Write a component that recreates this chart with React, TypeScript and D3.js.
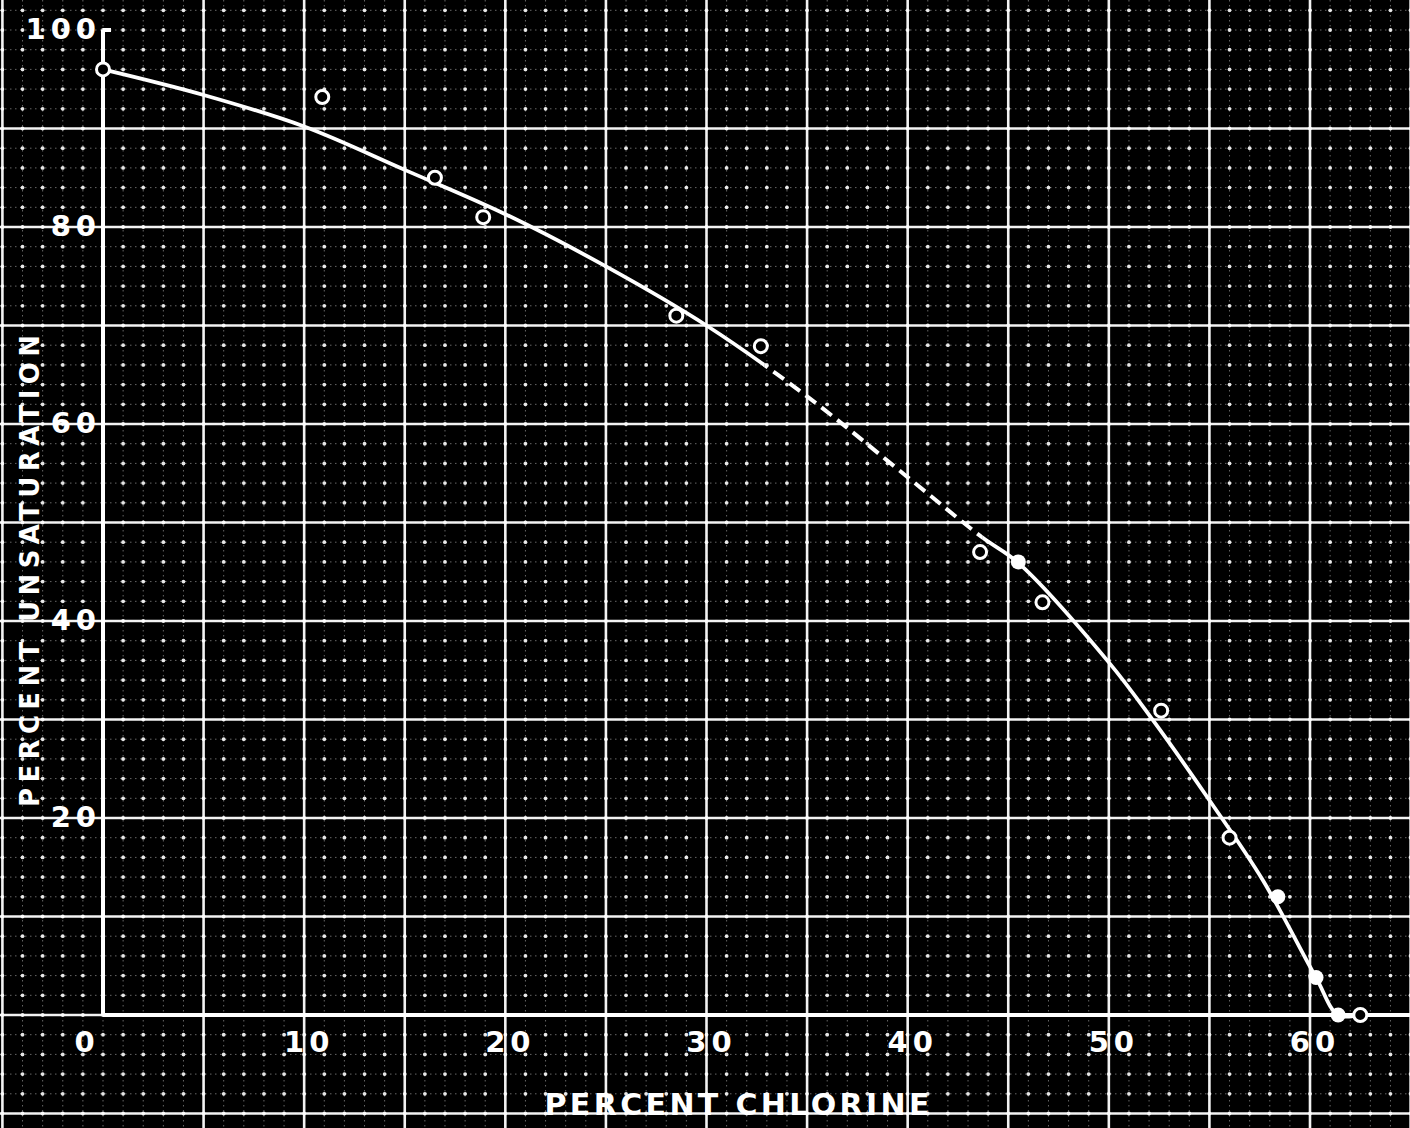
import React from "react";
import * as d3 from "d3";

const width = 1410;
const height = 1128;

// measured points (percent chlorine vs percent unsaturation)
const chlorine = [0, 10.9, 16.5, 18.9, 28.5, 32.7, 43.6, 45.5, 46.7, 52.6, 56.0, 58.4, 60.3, 61.4, 62.5];
const unsaturation = [96.0, 93.2, 85.0, 81.0, 71.0, 67.9, 47.0, 46.0, 41.9, 30.9, 18.0, 12.0, 3.8, 0, 0];
const filled = [false, false, false, false, false, false, false, true, false, false, false, true, true, true, false];

// hand drawn curve
const curveX = [0, 5, 10, 15, 20, 25, 30, 35, 40, 43.7, 45.5, 50, 52.2, 55, 57.65, 60.3, 61.4, 62.5];
const curveY = [96, 93.4, 90.2, 85.8, 81.3, 76, 70, 62.8, 54.6, 48.5, 45.9, 35.8, 29.9, 21.8, 13.7, 3.8, 0, 0];
const dashedFrom = 32.9;
const dashedTo = 43.7;

const xTicks = [0, 10, 20, 30, 40, 50, 60];
const yTicks = [20, 40, 60, 80, 100];
const xTitle = "PERCENT CHLORINE";
const yTitle = "PERCENT UNSATURATION";

const x = d3.scaleLinear().domain([0, 60]).range([103, 1310]);
const y = d3.scaleLinear().domain([0, 100]).range([1015, 30]);

const font = "'DejaVu Sans', sans-serif";

export default function App() {
  const majorX = d3.range(-5, 70, 5).filter(v => v !== 0);
  const majorY = d3.range(-10, 100, 10);
  const minorX = d3.range(-5, 66, 1);
  const minorY = d3.range(-12, 106, 2);

  const pts = curveX.map((v, i) => [v, curveY[i]] as [number, number]);
  const line = d3
    .line<[number, number]>()
    .x(d => x(d[0]))
    .y(d => y(d[1]))
    .curve(d3.curveCatmullRom.alpha(0.5));
  const path = line(pts) || "";

  const x0 = x(dashedFrom);
  const x1 = x(dashedTo);

  return (
    <svg
      width={width}
      height={height}
      style={{ position: "absolute", left: 0, top: 0, background: "#000" }}
    >
      <rect x={0} y={0} width={width} height={height} fill="#000" />
      <defs>
        <clipPath id="solidPart">
          <rect x={0} y={0} width={x0} height={height} />
          <rect x={x1} y={0} width={width - x1} height={height} />
        </clipPath>
        <clipPath id="dashedPart">
          <rect x={x0} y={0} width={x1 - x0} height={height} />
        </clipPath>
      </defs>

      {/* minor graph paper */}
      <g stroke="#fff" strokeWidth={1} strokeDasharray="1.5 3.5" opacity={0.4}>
        {minorX.map(v => (
          <line key={"mx" + v} x1={x(v)} x2={x(v)} y1={0} y2={height} />
        ))}
        {minorY.map(v => (
          <line key={"my" + v} x1={0} x2={width} y1={y(v)} y2={y(v)} />
        ))}
      </g>
      <g fill="#fff" opacity={0.9}>
        {minorX.map(a =>
          minorY.map(b => <circle key={a + "_" + b} cx={x(a)} cy={y(b)} r={1.9} />)
        )}
      </g>

      {/* major lines */}
      <g stroke="#fff" strokeWidth={2.6} opacity={0.95}>
        {majorX.map(v => (
          <line key={"Mx" + v} x1={x(v)} x2={x(v)} y1={0} y2={height} />
        ))}
        {majorY.map(v => (
          <line key={"My" + v} x1={0} x2={width} y1={y(v)} y2={y(v)} />
        ))}
      </g>

      {/* axes */}
      <g stroke="#fff" strokeWidth={4} fill="none">
        <line x1={x(0)} x2={x(0)} y1={y(100)} y2={y(0)} />
        <line x1={x(0)} x2={width} y1={y(0)} y2={y(0)} />
        <line x1={x(0)} x2={x(0) + 8} y1={y(100)} y2={y(100)} />
      </g>

      {/* curve */}
      <path d={path} fill="none" stroke="#fff" strokeWidth={3.8} clipPath="url(#solidPart)" />
      <path
        d={path}
        fill="none"
        stroke="#fff"
        strokeWidth={4}
        strokeDasharray="13 7"
        clipPath="url(#dashedPart)"
      />

      {/* points */}
      {chlorine.map((c, i) =>
        filled[i] ? (
          <circle key={"p" + i} cx={x(c)} cy={y(unsaturation[i])} r={7.5} fill="#fff" />
        ) : (
          <circle
            key={"p" + i}
            cx={x(c)}
            cy={y(unsaturation[i])}
            r={6.5}
            fill="#000"
            stroke="#fff"
            strokeWidth={3}
          />
        )
      )}

      {/* tick labels */}
      <g fill="#fff" fontFamily={font} fontWeight={700} fontSize={29} letterSpacing={5}>
        {xTicks.map(v => (
          <text
            key={"xt" + v}
            x={v === 0 ? x(v) - 16 : x(v) + 5}
            y={y(0) + 37}
            textAnchor="middle"
          >
            {v}
          </text>
        ))}
        {yTicks.map(v => (
          <text key={"yt" + v} x={x(0) - 2} y={y(v) + 9} textAnchor="end">
            {v}
          </text>
        ))}
      </g>

      {/* axis titles */}
      <text
        x={737}
        y={1115}
        fill="#fff"
        fontFamily={font}
        fontWeight={700}
        fontSize={30}
        textAnchor="middle"
        textLength={385}
        lengthAdjust="spacing"
      >
        {xTitle}
      </text>
      <text
        transform="translate(39,571) rotate(-90)"
        fill="#fff"
        fontFamily={font}
        fontWeight={700}
        fontSize={26}
        textAnchor="middle"
        textLength={472}
        lengthAdjust="spacing"
      >
        {yTitle}
      </text>
    </svg>
  );
}
